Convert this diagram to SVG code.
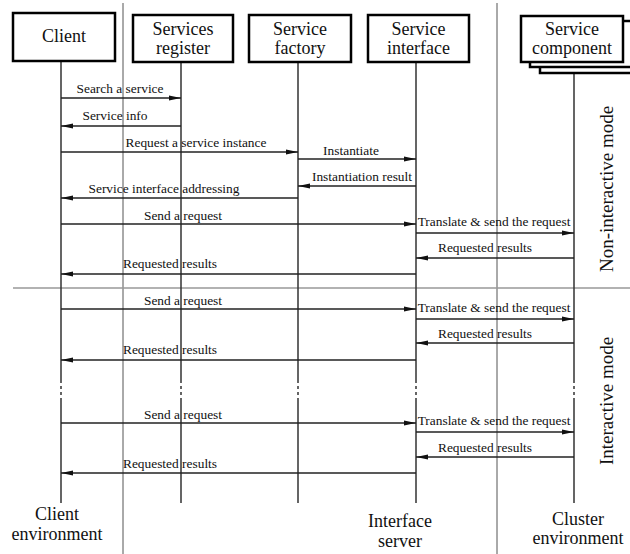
<svg xmlns="http://www.w3.org/2000/svg" width="630" height="554" viewBox="0 0 630 554">
<defs>
<marker id="ah" markerUnits="userSpaceOnUse" markerWidth="12" markerHeight="6" refX="12" refY="3" orient="auto">
<path d="M0,0.5 L12,3 L0,5.5 z" fill="#111"/>
</marker>
<style>
.box{fill:#fff;stroke:#000;stroke-width:2.5}
.life{stroke:#333;stroke-width:1.5;fill:none}
.dash{stroke:#333;stroke-width:1.5;stroke-dasharray:3,3;fill:none}
.sep{stroke:#555;stroke-width:1;fill:none}
.hsep{stroke:#999;stroke-width:1.5;fill:none}
.msg{stroke:#222;stroke-width:1.3;fill:none;marker-end:url(#ah)}
text{font-family:"Liberation Serif","Times New Roman",serif;fill:#111}
.nt{font-size:18px;text-anchor:middle}
.lb{font-size:13.4px;text-anchor:middle}
.md{font-size:19px;text-anchor:start}
</style>
</defs>
<rect width="630" height="554" fill="#fff"/>
<g id="separators">
<line class="sep" x1="123" y1="3" x2="123" y2="554"/>
<line class="sep" x1="497" y1="3" x2="497" y2="554"/>
<line class="hsep" x1="13" y1="288" x2="630" y2="288"/>
</g>
<g id="lifelines">
<path class="life" d="M61,61V380M61,398V503"/><path class="dash" d="M61,380V398"/>
<path class="life" d="M181,62V380M181,398V503"/><path class="dash" d="M181,380V398"/>
<path class="life" d="M298,62V380M298,398V503"/><path class="dash" d="M298,380V398"/>
<path class="life" d="M416,62V380M416,398V503"/><path class="dash" d="M416,380V398"/>
<path class="life" d="M574,74V380M574,398V503"/><path class="dash" d="M574,380V398"/>
</g>
<g id="client">
<rect class="box" x="13" y="13" width="102" height="48"/>
<text class="nt" x="64" y="42">Client</text>
</g>
<g id="services-register">
<rect class="box" x="133" y="15" width="100" height="47"/>
<text class="nt" x="183" y="35">Services</text>
<text class="nt" x="183" y="54">register</text>
</g>
<g id="service-factory">
<rect class="box" x="249" y="15" width="102" height="47"/>
<text class="nt" x="300" y="35">Service</text>
<text class="nt" x="300" y="54">factory</text>
</g>
<g id="service-interface">
<rect class="box" x="368" y="15" width="101" height="47"/>
<text class="nt" x="418.5" y="35">Service</text>
<text class="nt" x="418.5" y="54">interface</text>
</g>
<g id="service-component">
<rect class="box" x="540" y="27" width="102" height="46"/>
<rect class="box" x="530" y="21" width="102" height="46"/>
<rect class="box" x="521" y="16" width="102" height="46"/>
<text class="nt" x="572" y="35">Service</text>
<text class="nt" x="572" y="54">component</text>
</g>
<g id="connectors">
<line class="msg" x1="61" y1="98" x2="181" y2="98"/>
<line class="msg" x1="181" y1="126" x2="61" y2="126"/>
<line class="msg" x1="61" y1="152" x2="298" y2="152"/>
<line class="msg" x1="298" y1="159" x2="416" y2="159"/>
<line class="msg" x1="416" y1="186" x2="298" y2="186"/>
<line class="msg" x1="298" y1="198" x2="61" y2="198"/>
<line class="msg" x1="61" y1="224" x2="416" y2="224"/>
<line class="msg" x1="416" y1="233" x2="574" y2="233"/>
<line class="msg" x1="574" y1="258" x2="416" y2="258"/>
<line class="msg" x1="416" y1="274" x2="61" y2="274"/>
<line class="msg" x1="61" y1="309" x2="416" y2="309"/>
<line class="msg" x1="416" y1="319" x2="574" y2="319"/>
<line class="msg" x1="574" y1="343" x2="416" y2="343"/>
<line class="msg" x1="416" y1="360" x2="61" y2="360"/>
<line class="msg" x1="61" y1="423" x2="416" y2="423"/>
<line class="msg" x1="416" y1="432" x2="574" y2="432"/>
<line class="msg" x1="574" y1="457" x2="416" y2="457"/>
<line class="msg" x1="416" y1="473" x2="61" y2="473"/>
</g>
<g id="labels">
<text class="lb" x="120" y="93">Search a service</text>
<text class="lb" x="115" y="120">Service info</text>
<text class="lb" x="196" y="147">Request a service instance</text>
<text class="lb" x="351" y="155">Instantiate</text>
<text class="lb" x="362" y="181">Instantiation result</text>
<text class="lb" x="164" y="193">Service interface addressing</text>
<text class="lb" x="183" y="220">Send a request</text>
<text class="lb" x="494" y="226">Translate &amp; send the request</text>
<text class="lb" x="485" y="252">Requested results</text>
<text class="lb" x="170" y="268">Requested results</text>
<text class="lb" x="183" y="305">Send a request</text>
<text class="lb" x="494" y="312">Translate &amp; send the request</text>
<text class="lb" x="485" y="338">Requested results</text>
<text class="lb" x="170" y="354">Requested results</text>
<text class="lb" x="183" y="419">Send a request</text>
<text class="lb" x="494" y="425">Translate &amp; send the request</text>
<text class="lb" x="485" y="452">Requested results</text>
<text class="lb" x="170" y="468">Requested results</text>
</g>
<g id="modes">
<text class="md" transform="translate(613,272) rotate(-90)">Non-interactive mode</text>
<text class="md" transform="translate(613,465) rotate(-90)">Interactive mode</text>
</g>
<g id="environments">
<text class="nt" x="57" y="520">Client</text>
<text class="nt" x="57" y="540">environment</text>
<text class="nt" x="400" y="527">Interface</text>
<text class="nt" x="400" y="547">server</text>
<text class="nt" x="578" y="525">Cluster</text>
<text class="nt" x="578" y="544">environment</text>
</g>
</svg>
